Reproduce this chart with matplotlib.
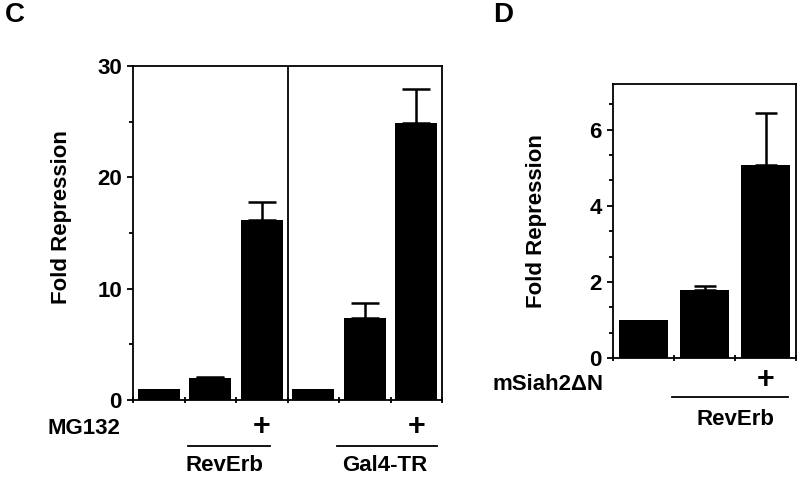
import matplotlib
matplotlib.use("Agg")
import matplotlib.pyplot as plt
from matplotlib.ticker import MultipleLocator

plt.rcParams['font.family'] = ['Liberation Sans', 'DejaVu Sans']
plt.rcParams['font.weight'] = 'bold'

# panel C: MG132 experiment
c_vals = [1.0, 2.0, 16.2, 1.0, 7.4, 24.9]
c_errs = [0.0, 0.1, 1.6, 0.0, 1.3, 3.0]
c_plus = [2, 5]
c_groups = ["RevErb", "Gal4-TR"]

# panel D: mSiah2dN experiment
d_vals = [1.0, 1.78, 5.07]
d_errs = [0.0, 0.12, 1.38]
d_plus = [2]
d_groups = ["RevErb"]

W, H = 800, 478
FS = 16
fig = plt.figure(figsize=(W / 100, H / 100), dpi=100)


def px(x, y):
    return x / W, 1 - y / H


def style_axes(ax):
    for s in ax.spines.values():
        s.set_linewidth(1.3)
    ax.tick_params(axis='y', which='major', direction='out', length=4, width=1.3,
                   labelsize=FS, pad=4)
    ax.tick_params(axis='y', which='minor', direction='out', length=3, width=1.3)
    ax.tick_params(axis='x', which='major', direction='inout', length=4, width=1.3,
                   labelbottom=False)


# ---- C ----
axc = fig.add_axes([133 / W, 1 - 400 / H, 309 / W, 334 / H])
n = len(c_vals)
xs = list(range(n))
axc.bar(xs, c_vals, width=0.82, color='black')
axc.errorbar(xs[1:3] + xs[4:], c_vals[1:3] + c_vals[4:],
             yerr=[[0, 0, 0, 0], c_errs[1:3] + c_errs[4:]],
             fmt='none', ecolor='black', elinewidth=1.8, capsize=10, capthick=1.8)
axc.set_xlim(-0.5, n - 0.5)
axc.set_ylim(0, 30)
axc.set_xticks([i - 0.5 for i in range(n + 1)])
axc.yaxis.set_major_locator(MultipleLocator(10))
axc.yaxis.set_minor_locator(MultipleLocator(5))
axc.axvline(2.5, color='black', lw=1.3)
axc.set_ylabel("Fold Repression", fontsize=FS, fontweight='bold')
axc.yaxis.set_label_coords(-0.198, 0.548)
style_axes(axc)

tr = axc.get_xaxis_transform()
for p in c_plus:
    axc.text(p, -0.081, "+", transform=tr, ha='center', va='center',
             fontsize=22, fontweight='bold')
for (x0, x1), xc, g in zip([(0.57, 2.16), (3.46, 5.4)], [1.27, 4.39], c_groups):
    axc.plot([x0, x1], [-0.138, -0.138], transform=tr, color='black', lw=1.3,
             clip_on=False)
    axc.text(xc, -0.197, g, transform=tr, ha='center', va='center',
             fontsize=FS, fontweight='bold')
fig.text(*px(120, 428), "MG132", ha='right', va='center', fontsize=FS,
         fontweight='bold')
fig.text(*px(5, 15), "C", ha='left', va='center', fontsize=20, fontweight='bold')

# ---- D ----
axd = fig.add_axes([613 / W, 1 - 358 / H, 183 / W, 274 / H])
m = len(d_vals)
xd = list(range(m))
axd.bar(xd, d_vals, width=0.8, color='black')
axd.errorbar(xd[1:], d_vals[1:], yerr=[[0] * (m - 1), d_errs[1:]],
             fmt='none', ecolor='black', elinewidth=1.8, capsize=8, capthick=1.8)
axd.set_xlim(-0.5, m - 0.5)
axd.set_ylim(0, 7.2)
axd.set_xticks([i - 0.5 for i in range(m + 1)])
axd.yaxis.set_major_locator(MultipleLocator(2))
axd.yaxis.set_minor_locator(MultipleLocator(2 / 3))
axd.set_ylabel("Fold Repression", fontsize=FS, fontweight='bold')
axd.yaxis.set_label_coords(-0.363, 0.5)
style_axes(axd)

trd = axd.get_xaxis_transform()
for p in d_plus:
    axd.text(p, -0.08, "+", transform=trd, ha='center', va='center',
             fontsize=22, fontweight='bold')
axd.plot([0.47, 2.37], [-0.142, -0.142], transform=trd, color='black', lw=1.3,
         clip_on=False)
axd.text(1.5, -0.226, d_groups[0], transform=trd, ha='center', va='center',
         fontsize=FS, fontweight='bold')
fig.text(*px(604, 385), "mSiah2\u0394N", ha='right', va='center', fontsize=FS,
         fontweight='bold')
fig.text(*px(493, 15), "D", ha='left', va='center', fontsize=20, fontweight='bold')

fig.savefig("out.png", dpi=100)
